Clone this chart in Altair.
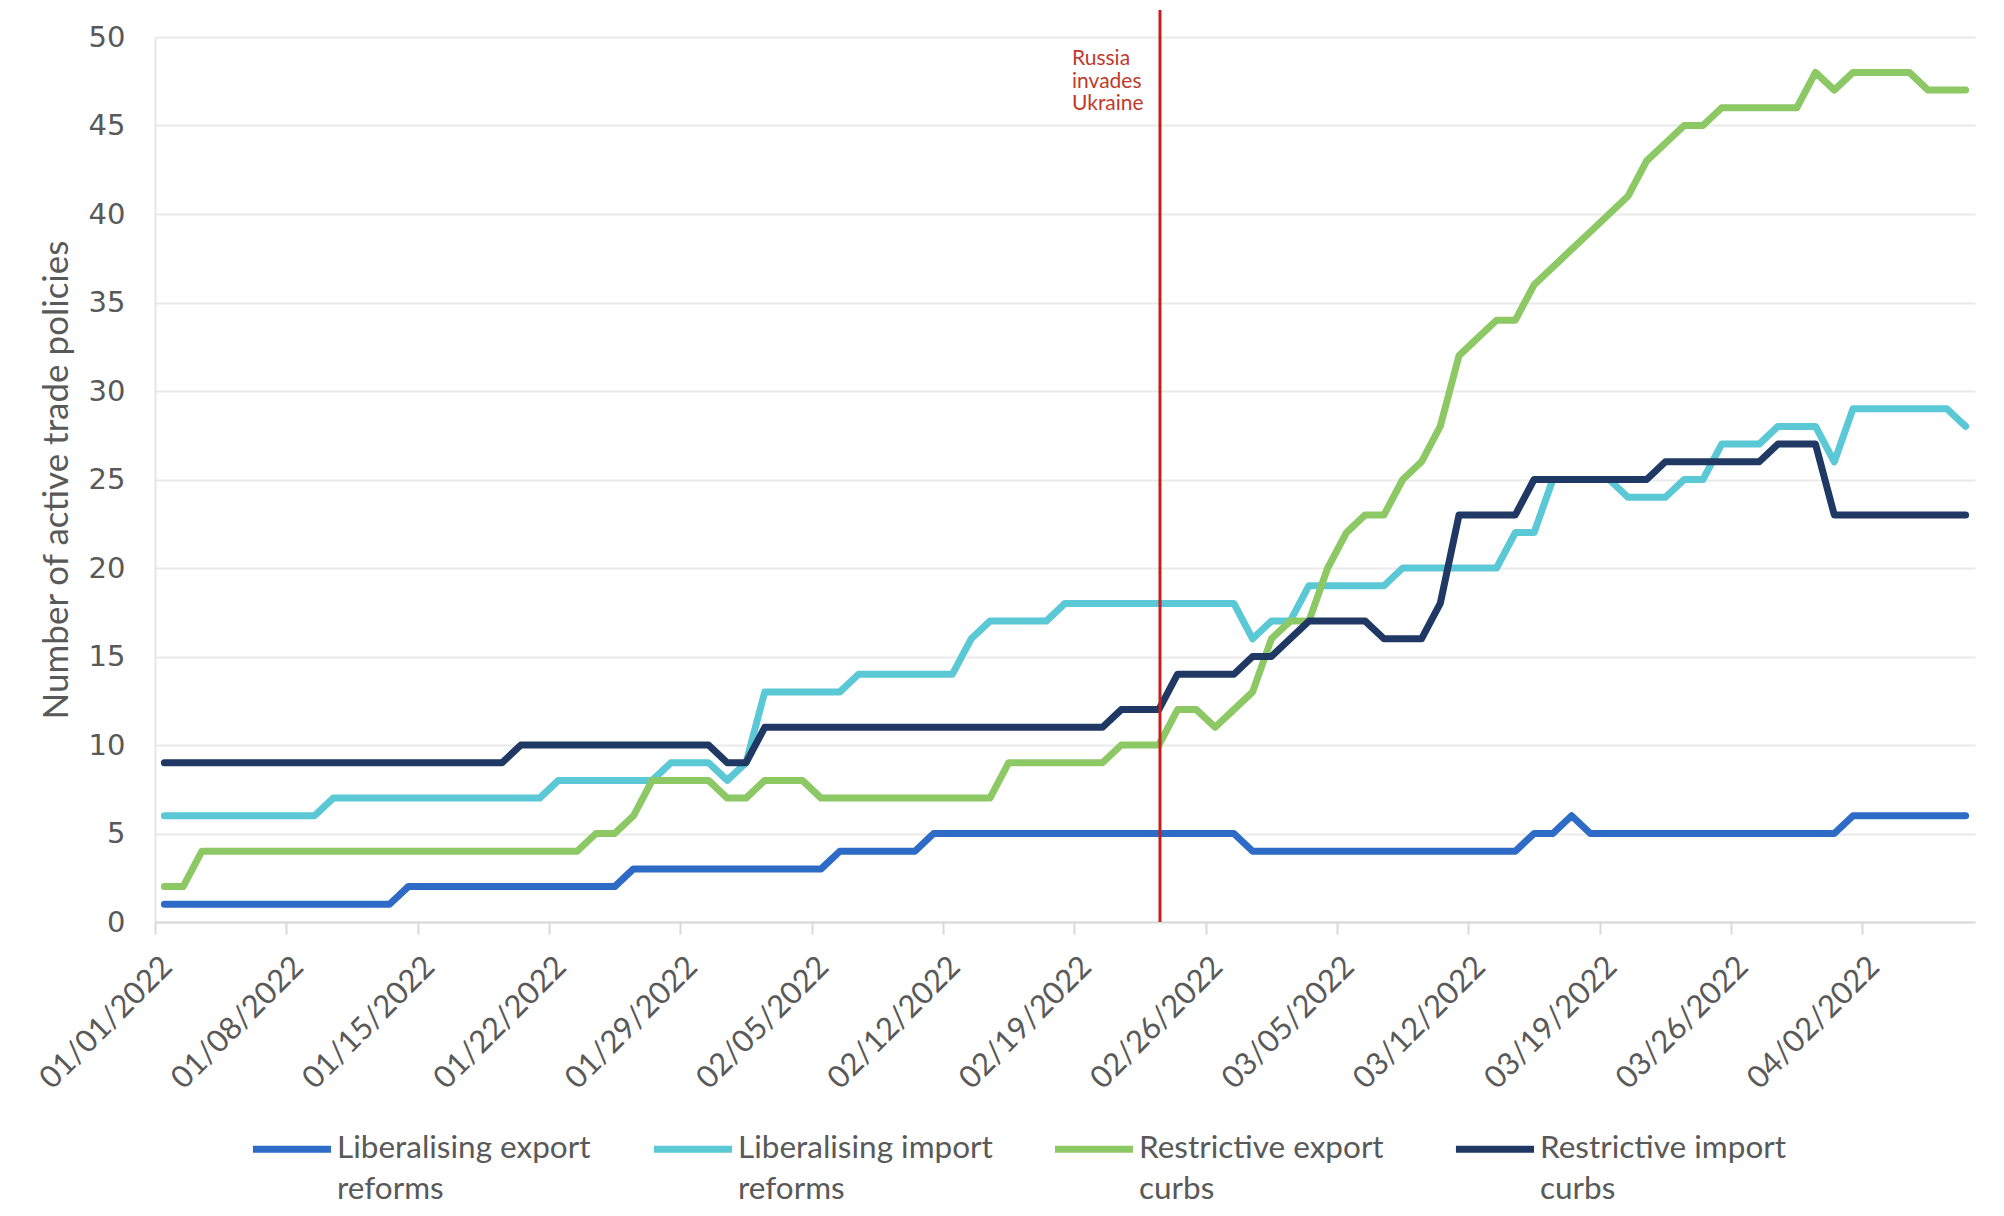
import altair as alt
import pandas as pd

# ---- data (daily counts, 1 Jan 2022 - 7 Apr 2022) ----
dates = pd.date_range("2022-01-01", periods=97, freq="D")

lib_export = [1]*13 + [2]*12 + [3]*11 + [4]*5 + [5]*17 + [4]*15 + [5, 5, 6] + [5]*14 + [6]*7
lib_import = ([6]*9 + [7]*12 + [8]*6 + [9]*3 + [8, 9] + [13]*5 + [14]*6 + [16] + [17]*4 + [18]*10
              + [16, 17, 17] + [19]*5 + [20]*6 + [22]*2 + [25]*4 + [24]*3 + [25]*2 + [27]*3
              + [28]*3 + [26] + [29]*6 + [28])
res_export = ([2]*2 + [4]*21 + [5]*2 + [6] + [8]*4 + [7]*2 + [8]*3 + [7]*10 + [9]*6 + [10]*3
              + [12]*2 + [11, 12, 13, 16, 17, 17, 20, 22] + [23]*2 + [25, 26, 28, 32, 33] + [34]*2
              + [36, 37, 38, 39, 40, 41, 43, 44] + [45]*2 + [46]*5 + [48, 47] + [48]*4 + [47]*3)
res_import = ([9]*19 + [10]*11 + [9]*2 + [11]*19 + [12]*3 + [14]*4 + [15]*2 + [16] + [17]*4
              + [16]*3 + [18] + [23]*4 + [25]*7 + [26]*6 + [27]*3 + [23]*8)

series_names = ["Liberalising export reforms", "Liberalising import reforms",
                "Restrictive export curbs", "Restrictive import curbs"]
series_values = [lib_export, lib_import, res_export, res_import]
series_colors = ["#2E6BC6", "#5BC8D6", "#8CC864", "#1F3864"]

tick_dates = ["2022-01-01", "2022-01-08", "2022-01-15", "2022-01-22", "2022-01-29",
              "2022-02-05", "2022-02-12", "2022-02-19", "2022-02-26", "2022-03-05",
              "2022-03-12", "2022-03-19", "2022-03-26", "2022-04-02"]
y_ticks = [0, 5, 10, 15, 20, 25, 30, 35, 40, 45, 50]

invasion_date = ["2022-02-23T13:30:00"]
annotation_text = ["Russia\ninvades\nUkraine"]

# ---- long table ----
rows = []
for name, vals in zip(series_names, series_values):
    for d, v in zip(dates, vals):
        rows.append({"date": d.strftime("%Y-%m-%dT12:00:00"), "series": name, "value": v})
df = pd.DataFrame(rows)


def dt(s):
    y, m, d = (int(p) for p in s.split("-"))
    return alt.DateTime(year=y, month=m, date=d)


x_scale = alt.Scale(domain=[dt("2022-01-01"), dt("2022-04-08")])

FONT = "Lato"
GREY = "#595959"

lines = alt.Chart(df).mark_line(strokeWidth=7, strokeJoin="round", strokeCap="round").encode(
    x=alt.X("date:T", scale=x_scale, title=None,
            axis=alt.Axis(values=[dt(s) for s in tick_dates], format="%m/%d/%Y",
                          labelAngle=-45, labelAlign="right", labelBaseline="middle",
                          labelFont=FONT, labelFontSize=31, labelColor=GREY,
                          labelPadding=28, labelOffset=12, labelFlush=False, labelOverlap=False,
                          tickSize=12, tickColor="#D9D9D9", tickWidth=2,
                          domainColor="#D9D9D9", domainWidth=2, grid=False)),
    y=alt.Y("value:Q", scale=alt.Scale(domain=[0, 50]),
            axis=alt.Axis(values=y_ticks, grid=True, gridColor="#EAEAEA", gridWidth=2,
                          domain=True, domainColor="#E6E6E6", domainWidth=2, ticks=False,
                          labelPadding=30, labelFont="DejaVu Sans", labelFontSize=29,
                          labelColor=GREY, title="Number of active trade policies",
                          titleFont=FONT, titleFontSize=35, titleFontWeight="normal",
                          titleColor=GREY, titlePadding=14)),
    color=alt.Color("series:N",
                    scale=alt.Scale(domain=series_names, range=series_colors),
                    legend=alt.Legend(title=None, orient="none", legendX=94, legendY=1069,
                                      direction="horizontal", columns=4,
                                      symbolType="stroke", symbolSize=6100,
                                      symbolStrokeWidth=7, labelFont=FONT,
                                      labelFontSize=31.5, labelColor=GREY, labelLimit=400,
                                      labelOffset=2, columnPadding=47, gridAlign="all",
                                      labelBaseline="middle",
                                      labelExpr="[slice(datum.label, 0, lastindexof(datum.label, ' ')), slice(datum.label, lastindexof(datum.label, ' ') + 1)]")),
)

rule = alt.Chart(pd.DataFrame({"date": invasion_date})).mark_rule(
    color="#C0201E", strokeWidth=3).encode(
    x=alt.X("date:T", scale=x_scale),
    y=alt.value(-27), y2=alt.value(885))

note = alt.Chart(pd.DataFrame({"date": invasion_date, "label": annotation_text})).mark_text(
    align="left", baseline="top", font=FONT, fontSize=21, color="#C0392B",
    lineBreak="\n", lineHeight=22.5, dx=-88).encode(
    x=alt.X("date:T", scale=x_scale),
    y=alt.value(11), text="label:N")

chart = alt.layer(lines, rule, note).properties(
    width=1820, height=885,
    padding={"left": 26, "top": 0, "right": 10, "bottom": 0},
    background="white",
).configure(style={"guide-label": {"lineHeight": 41}}).configure_view(stroke=None)

chart.save("out.html", embed_options={"renderer": "svg", "actions": False})
